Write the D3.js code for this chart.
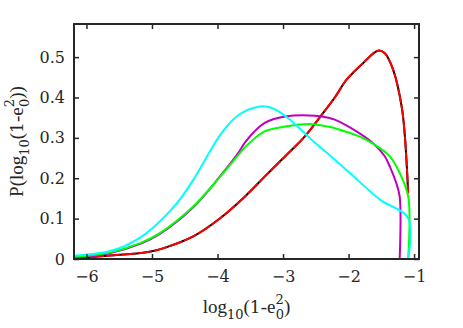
<!DOCTYPE html>
<html>
<head>
<meta charset="utf-8">
<script src="https://cdn.jsdelivr.net/npm/d3@7"></script>
<style>
  html, body { margin: 0; padding: 0; background: #fff; }
  svg text { fill: #262626; }
</style>
</head>
<body>
<svg id="chart" width="463" height="328"></svg>
<script>
(function () {
  'use strict';

  // tick values
  const xTicks = [-6, -5, -4, -3, -2, -1];
  const yTicks = [0, 0.1, 0.2, 0.3, 0.4, 0.5];

  // series: [log10(1-e0^2), P]
  const cyanSeries = [
    [-6.19, 0.008], [-5.68, 0.018], [-5.43, 0.031], [-5.17, 0.054], [-4.88, 0.093],
    [-4.60, 0.142], [-4.37, 0.196], [-4.11, 0.268], [-3.99, 0.300], [-3.86, 0.328],
    [-3.73, 0.350], [-3.58, 0.366], [-3.43, 0.375], [-3.30, 0.378], [-3.17, 0.374],
    [-2.93, 0.350], [-2.56, 0.295], [-2.21, 0.246], [-1.98, 0.213], [-1.52, 0.147],
    [-1.09, 0.101], [-1.09, 0]
  ];
  const magentaSeries = [
    [-6.19, 0.004], [-5.68, 0.013], [-5.17, 0.038], [-4.88, 0.062], [-4.37, 0.128],
    [-3.96, 0.205], [-3.66, 0.268], [-3.58, 0.289], [-3.28, 0.337], [-2.97, 0.353],
    [-2.51, 0.355], [-2.29, 0.349], [-2.21, 0.345], [-1.88, 0.316], [-1.63, 0.287],
    [-1.45, 0.255], [-1.37, 0.229], [-1.28, 0.192], [-1.22, 0.155], [-1.22, 0]
  ];
  const greenSeries = [
    [-6.19, 0.006], [-5.68, 0.015], [-5.17, 0.040], [-4.88, 0.064], [-4.37, 0.130],
    [-3.96, 0.204], [-3.66, 0.262], [-3.58, 0.277], [-3.28, 0.316], [-2.97, 0.328],
    [-2.56, 0.334], [-2.29, 0.327], [-2.21, 0.324], [-1.83, 0.303], [-1.60, 0.283],
    [-1.37, 0.254], [-1.22, 0.213], [-1.09, 0.155], [-1.09, 0]
  ];
  const redSeries = [
    [-6.19, 0.002], [-5.68, 0.008], [-5.17, 0.015], [-5.00, 0.019], [-4.82, 0.027],
    [-4.37, 0.056], [-3.96, 0.101], [-3.58, 0.155], [-3.28, 0.204],
    [-2.97, 0.254], [-2.67, 0.303], [-2.41, 0.357], [-2.21, 0.400],
    [-2.03, 0.444], [-1.78, 0.485], [-1.55, 0.516], [-1.45, 0.510], [-1.32, 0.469],
    [-1.19, 0.378], [-1.14, 0.303], [-1.09, 0.163]
  ];

  const W = 463, H = 328;
  const margin = { top: 24, right: 44, bottom: 69, left: 74 };
  const AXIS = '#262626';
  const SERIF = '"Liberation Serif", "Times New Roman", serif';
  const DIGITS = '"DejaVu Serif", serif';   // Liberation Serif digits fall back to sans here

  const svg = d3.select('#chart');

  const x = d3.scaleLinear().domain([-6.19, -0.925]).range([margin.left, W - margin.right]);
  const y = d3.scaleLinear().domain([0, 0.582]).range([H - margin.bottom, margin.top]);

  svg.append('defs').append('clipPath').attr('id', 'plot-clip')
    .append('rect')
    .attr('x', margin.left).attr('y', margin.top)
    .attr('width', W - margin.left - margin.right)
    .attr('height', H - margin.top - margin.bottom);

  const line = d3.line()
    .curve(d3.curveCatmullRom.alpha(0.5))
    .x(d => x(d[0])).y(d => y(d[1]));
  const g = svg.append('g').attr('clip-path', 'url(#plot-clip)');

  function draw(data, color, dash) {
    g.append('path')
      .datum(data)
      .attr('fill', 'none')
      .attr('stroke', color)
      .attr('stroke-width', 2)
      .attr('stroke-linejoin', 'round')
      .attr('stroke-dasharray', dash || null)
      .attr('d', line);
  }

  draw(redSeries, '#000000');
  draw(redSeries, '#ff0000', '14,2');
  draw(magentaSeries, '#bf00bf');
  draw(greenSeries, '#00ff00');
  draw(cyanSeries, '#00ffff');

  // Axes (box with inward ticks)
  const bottomAxis = d3.axisBottom(x).tickValues(xTicks).tickSizeInner(-5).tickSizeOuter(0).tickPadding(12)
    .tickFormat(d3.format('d'));
  const topAxis = d3.axisTop(x).tickValues(xTicks).tickSizeInner(-5).tickSizeOuter(0).tickFormat('');
  const leftAxis = d3.axisLeft(y).tickValues(yTicks).tickSizeInner(-5).tickSizeOuter(0).tickPadding(9)
    .tickFormat(d => d === 0 ? '0' : d3.format('.1f')(d));
  const rightAxis = d3.axisRight(y).tickValues(yTicks).tickSizeInner(-5).tickSizeOuter(0).tickFormat('');

  function styleAxis(sel) {
    sel.attr('font-family', null).attr('font-size', null);
    sel.select('.domain').remove();
    sel.selectAll('line').attr('stroke', AXIS).attr('stroke-width', 1.5);
    sel.selectAll('text').style('font-size', '16px').style('font-family', DIGITS).attr('fill', AXIS);
  }

  svg.append('g').attr('transform', `translate(0,${H - margin.bottom})`).call(bottomAxis).call(styleAxis);
  svg.append('g').attr('transform', `translate(0,${margin.top})`).call(topAxis).call(styleAxis);
  svg.append('g').attr('transform', `translate(${margin.left},0)`).call(leftAxis).call(styleAxis);
  svg.append('g').attr('transform', `translate(${W - margin.right},0)`).call(rightAxis).call(styleAxis);

  svg.append('rect')
    .attr('x', margin.left).attr('y', margin.top)
    .attr('width', W - margin.left - margin.right)
    .attr('height', H - margin.top - margin.bottom)
    .attr('fill', 'none').attr('stroke', AXIS).attr('stroke-width', 2);

  // Axis labels with sub/superscripts
  function labelParts(t, withP) {
    const small = '13px';
    if (withP) t.append('tspan').text('P(');
    t.append('tspan').text('log');
    t.append('tspan').style('font-size', small).style('font-family', DIGITS).attr('dy', 6).text('10');
    t.append('tspan').attr('dy', -6).text('(');
    t.append('tspan').style('font-family', DIGITS).style('font-size', '17px').text('1');
    t.append('tspan').text('-e');
    t.append('tspan').style('font-size', small).style('font-family', DIGITS).attr('dy', -9).text('2');
    t.append('tspan').style('font-size', small).style('font-family', DIGITS).attr('dy', 15).attr('dx', -8).text('0');
    t.append('tspan').attr('dy', -6).text(withP ? '))' : ')');
    t.style('font-size', '19px').style('font-family', SERIF);
  }

  const xl = svg.append('text')
    .attr('x', (margin.left + W - margin.right) / 2)
    .attr('y', 313)
    .attr('text-anchor', 'middle');
  labelParts(xl, false);

  const yl = svg.append('text')
    .attr('transform', `translate(23,${(margin.top + H - margin.bottom) / 2}) rotate(-90)`)
    .attr('text-anchor', 'middle');
  labelParts(yl, true);
})();
</script>
</body>
</html>
